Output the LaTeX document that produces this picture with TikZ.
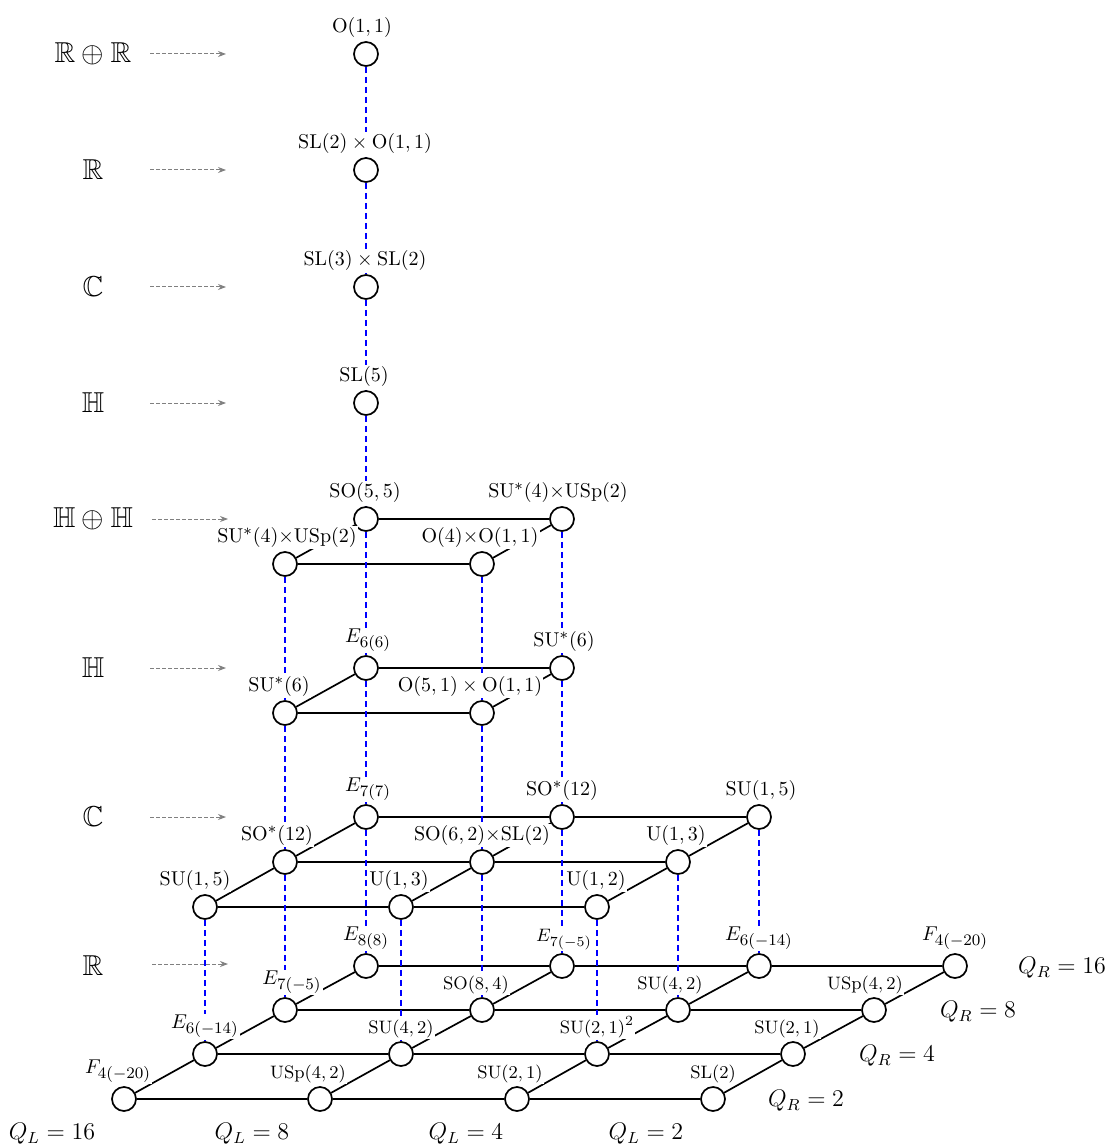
\documentclass[tikz,border=0pt]{standalone}
\usepackage{amssymb}
\DeclareMathSizes{10}{10}{8}{6}
\DeclareMathSizes{9}{9}{7}{5}
\usetikzlibrary{arrows.meta}
\pgfdeclarelayer{bg}
\pgfsetlayers{bg,main}
\newcommand{\grp}[1]{\mathrm{#1}}
\newcommand{\gnode}[4]{\node[gn,label={[lab,xshift=#3]above:#4}] (#1) at (#2) {};}
\begin{document}
\begin{tikzpicture}[x=0.5pt,y=-0.5pt,
  gn/.style={circle,draw,fill=white,line width=0.85pt,minimum size=12pt,inner sep=0pt},
  lab/.style={fill=white,inner sep=0.6pt,label distance=1pt},
  edgeline/.style={line width=0.85pt},
  vdash/.style={blue,line width=0.8pt,dash pattern=on 3.3pt off 1.7pt},
  garrow/.style={gray,line width=0.5pt,dash pattern=on 2pt off 1pt,-{Stealth[length=4pt,width=3pt]}},
  floorlab/.style={font=\Large},
  qlab/.style={font=\large}]
\useasboundingbox (0,0) rectangle (1104,1144);

% top column
\gnode{t1}{366,54}{-2pt}{$\grp{O}(1,1)$}
\gnode{t2}{366,170}{-0.5pt}{$\grp{SL}(2)\times\grp{O}(1,1)$}
\gnode{t3}{366,287}{-0.5pt}{$\grp{SL}(3)\times\grp{SL}(2)$}
\gnode{t4}{366,403}{-1pt}{$\grp{SL}(5)$}
% H+H floor
\gnode{a1}{366,519}{-0.5pt}{$\grp{SO}(5,5)$}
\gnode{a2}{562,519}{-2pt}{$\grp{SU}^*(4){\times}\grp{USp}(2)$}
\gnode{a3}{285,564}{1pt}{$\grp{SU}^*(4){\times}\grp{USp}(2)$}
\gnode{a4}{482,564}{-1pt}{$\grp{O}(4){\times}\grp{O}(1,1)$}
% H floor
\gnode{b1}{366,668}{1pt}{$E_{6(6)}$}
\gnode{b2}{562,668}{1pt}{$\grp{SU}^*(6)$}
\gnode{b3}{285,713}{-3pt}{$\grp{SU}^*(6)$}
\gnode{b4}{482,713}{-6pt}{$\grp{O}(5,1)\times\grp{O}(1,1)$}
% C floor
\gnode{c1}{366,817}{1pt}{$E_{7(7)}$}
\gnode{c2}{562,817}{0pt}{$\grp{SO}^*(12)$}
\gnode{c3}{759,817}{1pt}{$\grp{SU}(1,5)$}
\gnode{c4}{285,862}{-4pt}{$\grp{SO}^*(12)$}
\gnode{c5}{482,862}{0pt}{$\grp{SO}(6,2){\times}\grp{SL}(2)$}
\gnode{c6}{678,862}{-1pt}{$\grp{U}(1,3)$}
\gnode{c7}{205,907}{-5pt}{$\grp{SU}(1,5)$}
\gnode{c8}{401,907}{-1pt}{$\grp{U}(1,3)$}
\gnode{c9}{597,907}{-0.5pt}{$\grp{U}(1,2)$}
% R floor
\gnode{d1}{366,966}{0pt}{$E_{8(8)}$}
\gnode{d2}{562,966}{1pt}{\small$E_{7(-5)}$}
\gnode{d3}{759,966}{0pt}{$E_{6(-14)}$}
\gnode{d4}{955,966}{0pt}{$F_{4(-20)}$}
\gnode{d5}{285,1010}{3.5pt}{$E_{7(-5)}$}
\gnode{d6}{482,1010}{-3pt}{\small$\grp{SO}(8,4)$}
\gnode{d7}{678,1010}{-4pt}{\small$\grp{SU}(4,2)$}
\gnode{d8}{874,1010}{-4.5pt}{\small$\grp{USp}(4,2)$}
\gnode{d9}{205,1054}{0pt}{$E_{6(-14)}$}
\gnode{d10}{401,1054}{0pt}{\small$\grp{SU}(4,2)$}
\gnode{d11}{597,1054}{0pt}{\small$\grp{SU}(2,1)^2$}
\gnode{d12}{793,1054}{-3pt}{\small$\grp{SU}(2,1)$}
\gnode{d13}{124,1099}{-3pt}{$F_{4(-20)}$}
\gnode{d14}{320,1099}{-6pt}{\small$\grp{USp}(4,2)$}
\gnode{d15}{517,1099}{-3.5pt}{\small$\grp{SU}(2,1)$}
\gnode{d16}{713,1099}{0pt}{\small$\grp{SL}(2)$}

% floor labels
\node[floorlab] (f1) at (93,54) {$\mathbb{R}\oplus\mathbb{R}$};
\node[floorlab] (f2) at (93,170) {$\mathbb{R}$};
\node[floorlab] (f3) at (93,287) {$\mathbb{C}$};
\node[floorlab] (f4) at (93,403) {$\mathbb{H}$};
\node[floorlab] (f5) at (93,519) {$\mathbb{H}\oplus\mathbb{H}$};
\node[floorlab] (f6) at (93,668) {$\mathbb{H}$};
\node[floorlab] (f7) at (93,817) {$\mathbb{C}$};
\node[floorlab] (f8) at (93,966) {$\mathbb{R}$};
\coordinate (s1) at (150,54);  \coordinate (e1) at (226,54);
\coordinate (s2) at (150,170); \coordinate (e2) at (226,170);
\coordinate (s3) at (150,287); \coordinate (e3) at (226,287);
\coordinate (s4) at (150,403); \coordinate (e4) at (226,403);
\coordinate (s5) at (152,519); \coordinate (e5) at (228,519);
\coordinate (s6) at (150,668); \coordinate (e6) at (226,668);
\coordinate (s7) at (150,817); \coordinate (e7) at (226,817);
\coordinate (s8) at (152,964); \coordinate (e8) at (228,964);
\foreach \i in {1,...,8} {\draw[garrow] (s\i) -- (e\i);}

% charge labels
\node[qlab] (ql16) at (52,1134) {$Q_L=16$};
\node[qlab] (ql8) at (252,1134) {$Q_L=8$};
\node[qlab] (ql4) at (466,1134) {$Q_L=4$};
\node[qlab] (ql2) at (646,1134) {$Q_L=2$};
\node[qlab] (qr16) at (1062,968) {$Q_R=16$};
\node[qlab] (qr8) at (978,1012) {$Q_R=8$};
\node[qlab] (qr4) at (897,1056) {$Q_R=4$};
\node[qlab] (qr2) at (806,1101) {$Q_R=2$};

\begin{pgfonlayer}{bg}
% black edges
\draw[edgeline] (a3) -- (a4) (a1) -- (a2) (a3) -- (a1) (a4) -- (a2);
\draw[edgeline] (b3) -- (b4) (b1) -- (b2) (b3) -- (b1) (b4) -- (b2);
\draw[edgeline] (c7) -- (c8) -- (c9);
\draw[edgeline] (c4) -- (c5) -- (c6);
\draw[edgeline] (c1) -- (c2) -- (c3);
\draw[edgeline] (c7) -- (c4) -- (c1);
\draw[edgeline] (c8) -- (c5) -- (c2);
\draw[edgeline] (c9) -- (c6) -- (c3);
\draw[edgeline] (d13) -- (d14) -- (d15) -- (d16);
\draw[edgeline] (d9) -- (d10) -- (d11) -- (d12);
\draw[edgeline] (d5) -- (d6) -- (d7) -- (d8);
\draw[edgeline] (d1) -- (d2) -- (d3) -- (d4);
\draw[edgeline] (d13) -- (d9) -- (d5) -- (d1);
\draw[edgeline] (d14) -- (d10) -- (d6) -- (d2);
\draw[edgeline] (d15) -- (d11) -- (d7) -- (d3);
\draw[edgeline] (d16) -- (d12) -- (d8) -- (d4);
% blue dashed verticals
\draw[vdash] (t1) -- (t2) -- (t3) -- (t4) -- (a1) -- (b1) -- (c1) -- (d1);
\draw[vdash] (a3) -- (b3) -- (c4) -- (d5);
\draw[vdash] (a4) -- (b4) -- (c5) -- (d6);
\draw[vdash] (a2) -- (b2) -- (c2) -- (d2);
\draw[vdash] (c7) -- (d9);
\draw[vdash] (c8) -- (d10);
\draw[vdash] (c9) -- (d11);
\draw[vdash] (c6) -- (d7);
\draw[vdash] (c3) -- (d3);
\end{pgfonlayer}
\end{tikzpicture}
\end{document}
